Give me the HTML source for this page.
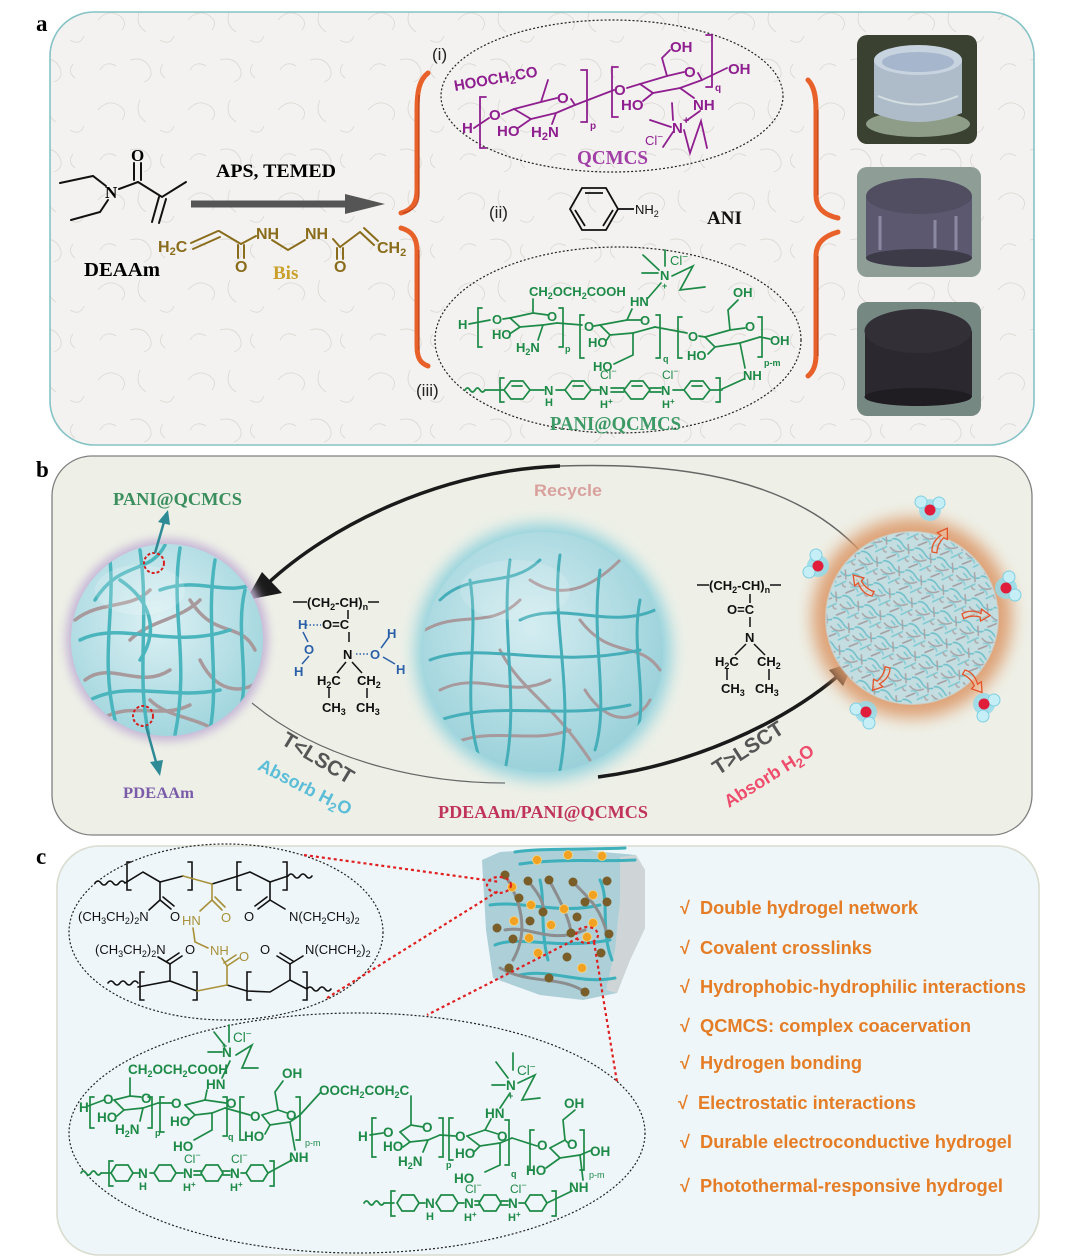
<!DOCTYPE html>
<html><head><meta charset="utf-8">
<style>
html,body{margin:0;padding:0;background:#fff;width:1080px;height:1257px;overflow:hidden}
svg{display:block}
text{font-family:"Liberation Sans",sans-serif}
.sf{font-family:"Liberation Serif",serif;font-weight:bold}
.pu{fill:#8f1f8f;font-weight:bold;font-size:15px}
.gr{fill:#1e8a47;font-weight:bold;font-size:13px}
.bk{fill:#111;font-size:13px}
.au{fill:#a8913a;font-size:13px}
.li{fill:#e57d26;font-weight:bold;font-size:18px}
.ch{font-family:"Liberation Serif",serif;font-weight:bold;font-size:13px;fill:#111}
.bl{fill:#2a5fa8}
.rm{font-family:"Liberation Sans",sans-serif;font-size:17px;fill:#222}
</style></head><body>
<svg width="1080" height="1257" viewBox="0 0 1080 1257" xmlns="http://www.w3.org/2000/svg">
<defs>
<pattern id="paper" width="90" height="90" patternUnits="userSpaceOnUse">
<g fill="none" stroke="#dddad5" stroke-width="0.9">
<path d="M8 20 q10 -12 22 -4 q8 6 2 14"/><path d="M50 10 q-6 14 6 22"/>
<path d="M40 60 q14 -4 20 8 q4 10 -6 14"/><path d="M70 40 q10 6 14 -4"/>
<path d="M10 70 q6 -10 16 -4"/><path d="M75 78 q-8 -6 -2 -14"/>
</g></pattern>
<pattern id="fib" width="30" height="30" patternUnits="userSpaceOnUse" patternTransform="rotate(23) scale(0.8)">
<rect width="30" height="30" fill="#c3dde1"/>
<g fill="none" stroke-width="1.9" stroke-linecap="round">
<path d="M0 4 q7 -4 15 2 t15 0" stroke="#6fc0c9"/>
<path d="M2 15 q9 5 17 -3" stroke="#a7a3a6"/>
<path d="M17 27 l10 -11" stroke="#7ccad2"/>
<path d="M3 29 l8 -8" stroke="#a39ea1"/>
<path d="M21 3 l5 10" stroke="#a9a5a8"/>
<path d="M6 20 q6 -4 10 2" stroke="#88cdd5"/>
<path d="M24 20 q3 4 6 2" stroke="#b0acae"/>
<path d="M9 9 l6 3" stroke="#7fc6ce"/>
</g></pattern>
<radialGradient id="sgL" cx="45%" cy="40%" r="60%"><stop offset="0" stop-color="#dcf1f4"/><stop offset="1" stop-color="#a3d6de"/></radialGradient>
<radialGradient id="sgC" cx="45%" cy="40%" r="60%"><stop offset="0" stop-color="#d4edf1"/><stop offset="1" stop-color="#9bd1da"/></radialGradient>
<filter id="b5" x="-30%" y="-30%" width="160%" height="160%"><feGaussianBlur stdDeviation="5"/></filter>
<filter id="b8" x="-30%" y="-30%" width="160%" height="160%"><feGaussianBlur stdDeviation="8"/></filter>
<clipPath id="cL"><circle cx="167" cy="640" r="96"/></clipPath>
<clipPath id="cC"><circle cx="543" cy="652" r="120"/></clipPath>
</defs>

<!-- ============ PANEL A ============ -->
<rect x="50" y="12" width="984" height="433" rx="44" fill="#f3f2f0"/>
<rect x="50" y="12" width="984" height="433" rx="44" fill="url(#paper)" stroke="#86c3c6" stroke-width="1.6"/>
<text x="36" y="31" class="sf" font-size="23">a</text>

<!-- DEAAm -->
<g stroke="#111" stroke-width="2" fill="none" stroke-linecap="round">
<polyline points="60,183 93,176 106,186"/>
<polyline points="71,220 100,212 108,200"/>
<line x1="119" y1="189" x2="138" y2="182"/>
<line x1="134" y1="180" x2="134" y2="163"/><line x1="141" y1="180" x2="141" y2="163"/>
<polyline points="138,182 162,197 186,182"/>
<line x1="159" y1="197" x2="152" y2="222"/><line x1="166" y1="199" x2="159" y2="223"/>
</g>
<text x="105" y="198" class="sf" font-size="17">N</text>
<text x="131" y="161" class="sf" font-size="17">O</text>
<text x="84" y="276" class="sf" font-size="20" textLength="76" lengthAdjust="spacingAndGlyphs">DEAAm</text>

<!-- arrow -->
<line x1="191" y1="204" x2="350" y2="204" stroke="#555" stroke-width="7"/>
<polygon points="345,194 385,204 345,214" fill="#555"/>
<text x="216" y="177" class="sf" font-size="19" textLength="120" lengthAdjust="spacingAndGlyphs">APS, TEMED</text>

<!-- Bis -->
<g stroke="#8a6d1c" stroke-width="2" fill="none" stroke-linecap="round">
<line x1="191" y1="243" x2="218" y2="231"/><line x1="193" y1="249" x2="220" y2="237"/>
<line x1="219" y1="231" x2="241" y2="244"/>
<line x1="238" y1="245" x2="238" y2="258"/><line x1="244" y1="245" x2="244" y2="258"/>
<line x1="241" y1="244" x2="256" y2="236"/>
<polyline points="272,240 288,250 305,240"/>
<line x1="333" y1="239" x2="340" y2="247"/>
<line x1="337" y1="248" x2="337" y2="259"/><line x1="343" y1="248" x2="343" y2="259"/>
<line x1="340" y1="247" x2="360" y2="232"/>
<line x1="360" y1="232" x2="374" y2="245"/><line x1="364" y1="228" x2="378" y2="241"/>
</g>
<g fill="#8a6d1c" font-weight="bold" font-size="16">
<text x="158" y="252">H<tspan dy="3" font-size="11">2</tspan><tspan dy="-3">C</tspan></text>
<text x="256" y="239">NH</text><text x="305" y="239">NH</text>
<text x="377" y="253">CH<tspan dy="3" font-size="11">2</tspan></text>
<text x="235" y="272">O</text><text x="334" y="272">O</text>
</g>
<text x="273" y="279" class="sf" font-size="19" fill="#c9a02a">Bis</text>

<!-- braces -->
<g fill="none" stroke="#e8612a" stroke-width="5" stroke-linecap="round">
<path d="M428,73 C419,80 417,92 417,110 L417,190 C417,203 412,210 401,213"/>
<path d="M401,228 C412,231 417,238 417,250 L417,345 C417,358 420,363 428,366"/>
<path d="M808,80 C814,86 816,96 816,110 L816,195 C816,208 824,215 838,218"/>
<path d="M838,232 C824,236 816,243 816,256 L816,355 C816,366 813,372 808,376"/>
</g>
<g fill="none" stroke="#a8300e" stroke-width="1.2" opacity=".7">
<path d="M419,95 L419,195 C419,205 413,211 403,213"/>
<path d="M419,250 L419,350"/>
<path d="M818,110 L818,195"/><path d="M818,256 L818,356"/>
</g>

<!-- (i) QCMCS -->
<ellipse cx="612" cy="96" rx="171" ry="76" fill="none" stroke="#222" stroke-width="1.2" stroke-dasharray="2,2"/>
<text x="432" y="60" class="rm">(i)</text>
<g stroke="#8f1f8f" stroke-width="1.8" fill="none" stroke-linecap="round">
<polyline points="474,128 489,118"/>
<path d="M486,97 L480,97 L480,148 L486,148"/>
<line x1="502" y1="114" x2="514" y2="109"/>
<polyline points="514,109 531,119 556,113 575,105"/>
<polyline points="514,109 541,102 557,98"/>
<line x1="571" y1="99" x2="575" y2="105"/>
<line x1="541" y1="102" x2="548" y2="80"/>
<line x1="531" y1="119" x2="518" y2="128"/>
<line x1="556" y1="113" x2="552" y2="124"/>
<line x1="575" y1="105" x2="614" y2="90"/>
<path d="M581,70 L587,70 L587,122 L581,122"/>
<path d="M618,67 L612,67 L612,117 L618,117"/>
<line x1="627" y1="88" x2="640" y2="84"/>
<polyline points="640,84 653,93 680,88 702,80"/>
<polyline points="640,84 667,76 684,72"/>
<line x1="698" y1="73" x2="702" y2="80"/>
<polyline points="667,76 662,58 670,50"/>
<line x1="653" y1="93" x2="643" y2="101"/>
<line x1="680" y1="88" x2="694" y2="98"/>
<line x1="702" y1="80" x2="727" y2="68"/>
<path d="M706,35 L712,35 L712,87 L706,87"/>
<line x1="700" y1="111" x2="686" y2="121"/>
<line x1="673" y1="120" x2="672" y2="103"/>
<line x1="671" y1="127" x2="650" y2="120"/>
<line x1="673" y1="132" x2="663" y2="147"/>
<polyline points="684,130 690,153 701,121 707,148"/>
</g>
<g class="pu">
<text transform="translate(455,91) rotate(-10)">HOOCH<tspan dy="3" font-size="11">2</tspan><tspan dy="-3">CO</tspan></text>
<text x="462" y="133">H</text>
<text x="489" y="120">O</text>
<text x="497" y="136">HO</text>
<text x="531" y="137">H<tspan dy="3" font-size="11">2</tspan><tspan dy="-3">N</tspan></text>
<text x="557" y="103">O</text>
<text x="590" y="129" font-size="10">p</text>
<text x="614" y="95">O</text>
<text x="621" y="110">HO</text>
<text x="670" y="52">OH</text>
<text x="684" y="77">O</text>
<text x="715" y="91" font-size="10">q</text>
<text x="728" y="74">OH</text>
<text x="693" y="110">NH</text>
<text x="672" y="133">N</text>
<text x="683" y="124" font-size="11">+</text>
<text x="645" y="145" font-size="13" font-weight="normal">Cl<tspan dy="-5" font-size="10">−</tspan></text>
</g>
<text x="577" y="164" class="sf" font-size="20" fill="#a13fa6" textLength="71" lengthAdjust="spacingAndGlyphs">QCMCS</text>

<!-- (ii) aniline -->
<text x="489" y="218" class="rm">(ii)</text>
<g stroke="#111" stroke-width="1.8" fill="none">
<polygon points="582,188 606,188 618,209 606,230 582,230 570,209"/>
<line x1="585" y1="193" x2="603" y2="193"/>
<line x1="613" y1="210" x2="603" y2="226"/>
<line x1="575" y1="210" x2="585" y2="226"/>
<line x1="618" y1="209" x2="634" y2="209"/>
</g>
<text x="635" y="214" font-size="13" fill="#111">NH<tspan dy="3" font-size="9">2</tspan></text>
<text x="707" y="224" class="sf" font-size="19" fill="#111">ANI</text>

<!-- (iii) PANI@QCMCS -->
<ellipse cx="618" cy="340" rx="183" ry="93" fill="none" stroke="#222" stroke-width="1.2" stroke-dasharray="2,2"/>
<text x="416" y="396" class="rm">(iii)</text>
<g stroke="#1e8a47" stroke-width="1.7" fill="none" stroke-linecap="round">
<line x1="469" y1="324" x2="490" y2="320"/>
<path d="M482,308 L478,308 L478,347 L482,347"/>
<line x1="503" y1="319" x2="510" y2="318"/>
<polyline points="510,318 520,327 543,325 557,323"/>
<polyline points="510,318 533,313 548,315"/>
<line x1="533" y1="313" x2="533" y2="299"/>
<line x1="520" y1="327" x2="511" y2="333"/>
<line x1="543" y1="325" x2="538" y2="340"/>
<line x1="557" y1="323" x2="582" y2="325"/>
<path d="M559,308 L563,308 L563,347 L559,347"/>
<path d="M584,315 L580,315 L580,358 L584,358"/>
<line x1="594" y1="326" x2="600" y2="325"/>
<polyline points="600,325 610,335 633,333 655,327"/>
<polyline points="600,325 627,320 641,320"/>
<line x1="627" y1="320" x2="632" y2="309"/>
<line x1="610" y1="335" x2="606" y2="341"/>
<polyline points="633,333 633,355 614,364"/>
<line x1="655" y1="327" x2="687" y2="333"/>
<path d="M656,315 L660,315 L660,358 L656,358"/>
<path d="M682,317 L678,317 L678,358 L682,358"/>
<line x1="699" y1="336" x2="705" y2="337"/>
<polyline points="705,337 715,347 740,343 760,337"/>
<polyline points="705,337 730,330 745,328"/>
<polyline points="730,330 728,310 738,300"/>
<line x1="715" y1="347" x2="708" y2="354"/>
<line x1="740" y1="343" x2="745" y2="368"/>
<line x1="760" y1="337" x2="770" y2="339"/>
<path d="M758,317 L762,317 L762,357 L758,357"/>
<line x1="648" y1="298" x2="661" y2="283"/>
<line x1="665" y1="250" x2="665" y2="266"/>
<line x1="643" y1="255" x2="659" y2="270"/>
<line x1="642" y1="273" x2="658" y2="273"/>
<polyline points="672,276 693,266 680,290 705,287"/>
<!-- PANI -->
<path d="M465,390 q2.5,-4 5,0 t5,0 t5,0 t5,0"/>
<line x1="485" y1="390" x2="504" y2="390"/>
<path d="M504,378 L500,378 L500,402 L504,402"/>
<polygon points="504,390 511,381 523,381 530,390 523,399 511,399"/>
<line x1="512" y1="386" x2="522" y2="386"/>
<line x1="530" y1="390" x2="544" y2="390"/>
<line x1="556" y1="390" x2="565" y2="390"/>
<polygon points="565,390 572,381 584,381 591,390 584,399 572,399"/>
<line x1="573" y1="386" x2="583" y2="386"/>
<line x1="591" y1="390" x2="599" y2="390"/>
<line x1="611" y1="388" x2="624" y2="388"/><line x1="611" y1="392" x2="624" y2="392"/>
<polygon points="624,390 631,381 643,381 650,390 643,399 631,399"/>
<line x1="632" y1="386" x2="642" y2="386"/>
<line x1="650" y1="388" x2="661" y2="388"/><line x1="650" y1="392" x2="661" y2="392"/>
<line x1="673" y1="390" x2="684" y2="390"/>
<polygon points="684,390 691,381 703,381 710,390 703,399 691,399"/>
<line x1="692" y1="386" x2="702" y2="386"/>
<line x1="710" y1="390" x2="722" y2="390"/>
<path d="M716,378 L720,378 L720,402 L716,402"/>
<line x1="722" y1="389" x2="744" y2="379"/>
</g>
<g class="gr">
<text x="529" y="296">CH<tspan dy="3" font-size="9">2</tspan><tspan dy="-3">OCH</tspan><tspan dy="3" font-size="9">2</tspan><tspan dy="-3">COOH</tspan></text>
<text x="458" y="329">H</text>
<text x="492" y="324">O</text>
<text x="492" y="339">HO</text>
<text x="516" y="352">H<tspan dy="3" font-size="9">2</tspan><tspan dy="-3">N</tspan></text>
<text x="547" y="321">O</text>
<text x="565" y="352" font-size="9">p</text>
<text x="584" y="331">O</text>
<text x="588" y="347">HO</text>
<text x="640" y="325">O</text>
<text x="593" y="371">HO</text>
<text x="630" y="306">HN</text>
<text x="663" y="362" font-size="9">q</text>
<text x="688" y="341">O</text>
<text x="745" y="331">O</text>
<text x="733" y="297">OH</text>
<text x="770" y="345">OH</text>
<text x="687" y="360">HO</text>
<text x="764" y="366" font-size="9">p-m</text>
<text x="743" y="380">NH</text>
<text x="660" y="280">N</text>
<text x="662" y="289" font-size="9">+</text>
<text x="670" y="265" font-weight="normal">Cl<tspan dy="-5" font-size="10">−</tspan></text>
<text x="544" y="395">N</text>
<text x="545" y="406" font-size="11">H</text>
<text x="599" y="395">N</text>
<text x="600" y="379" font-weight="normal" font-size="12">Cl<tspan dy="-5" font-size="9">−</tspan></text>
<text x="600" y="408" font-size="11">H<tspan dy="-4" font-size="8">+</tspan></text>
<text x="661" y="395">N</text>
<text x="662" y="379" font-weight="normal" font-size="12">Cl<tspan dy="-5" font-size="9">−</tspan></text>
<text x="662" y="408" font-size="11">H<tspan dy="-4" font-size="8">+</tspan></text>
</g>
<text x="550" y="430" class="sf" font-size="20" fill="#3d9a66" textLength="131" lengthAdjust="spacingAndGlyphs">PANI@QCMCS</text>

<!-- photos -->
<rect x="857" y="35" width="120" height="109" rx="10" fill="#3a4131"/>
<ellipse cx="918" cy="124" rx="52" ry="13" fill="#9eae98" opacity=".85"/>
<path d="M874,60 L874,113 Q918,131 962,113 L962,60 Z" fill="#aebcca"/>
<ellipse cx="918" cy="60" rx="44" ry="15" fill="#c8d3e0"/>
<ellipse cx="918" cy="62" rx="36" ry="10" fill="#a6b6cc"/>
<path d="M878,96 Q918,113 958,96" stroke="#e4ecea" stroke-width="2" fill="none" opacity=".7"/>
<rect x="857" y="167" width="124" height="110" rx="10" fill="#8e9e97"/>
<rect x="866" y="196" width="106" height="62" fill="#5c5870"/>
<ellipse cx="919" cy="258" rx="53" ry="9" fill="#3e3b48"/>
<ellipse cx="919" cy="196" rx="53" ry="18" fill="#524e62"/>
<path d="M880,216 L880,250 M956,216 L956,250 M935,220 L935,248" stroke="#8b88a2" stroke-width="3"/>
<rect x="857" y="302" width="124" height="114" rx="10" fill="#768882"/>
<rect x="865" y="331" width="107" height="66" fill="#2b282f"/>
<ellipse cx="918" cy="397" rx="53.5" ry="9" fill="#1f1c22"/>
<ellipse cx="918" cy="331" rx="53.5" ry="22" fill="#332f37"/>

<!-- ============ PANEL B ============ -->
<rect x="52" y="456" width="980" height="379" rx="40" fill="#eef0e7" stroke="#808080" stroke-width="1.3"/>
<text x="36" y="477" class="sf" font-size="23">b</text>

<!-- recycle arrow -->
<path d="M868,560 C800,478 680,462 560,466" fill="none" stroke="#666" stroke-width="1.5"/>
<path d="M560,466 C440,471 330,525 266,585" fill="none" stroke="#1a1a1a" stroke-width="3.5"/>
<polygon points="246,600 262,572 282,593" fill="#1a1a1a"/>
<text x="534" y="496" font-weight="bold" font-size="17" fill="#d9a19e" textLength="68" lengthAdjust="spacingAndGlyphs">Recycle</text>
<!-- lower thin -->
<path d="M252,703 C320,760 420,783 505,783" fill="none" stroke="#666" stroke-width="1.2"/>

<!-- left sphere -->
<circle cx="167" cy="640" r="101" fill="#c4b4d6" filter="url(#b5)"/>
<circle cx="167" cy="640" r="96" fill="url(#sgL)"/>
<g clip-path="url(#cL)" fill="none" stroke-width="3.5" stroke-linecap="round">
<g stroke="#a89a9c">
<path d="M75,620 C100,600 130,610 150,590"/><path d="M85,680 C110,660 140,690 170,670"/>
<path d="M190,600 C215,640 240,620 255,650"/><path d="M100,720 C130,700 160,720 190,705"/>
<path d="M200,660 C220,700 250,690 260,680"/><path d="M150,700 C170,720 200,715 230,740"/>
<path d="M130,640 C150,620 180,620 200,600"/>
</g>
<g stroke="#4ab5bd">
<path d="M95,600 C120,560 150,575 165,545"/><path d="M110,560 C115,610 100,660 115,720"/>
<path d="M140,550 C150,620 135,680 150,740"/><path d="M180,548 C170,610 190,660 175,735"/>
<path d="M215,560 C205,620 220,680 210,730"/><path d="M245,590 C235,630 250,680 240,710"/>
<path d="M80,640 C120,620 170,650 230,630"/><path d="M90,700 C130,680 170,700 220,690"/>
<path d="M160,590 C200,575 230,600 260,580"/><path d="M120,580 C150,600 160,630 140,660"/>
</g>
</g>
<ellipse cx="140" cy="590" rx="45" ry="25" fill="#fff" opacity=".18"/>
<circle cx="154" cy="563" r="10" fill="none" stroke="#d62020" stroke-width="2" stroke-dasharray="3,2"/>
<circle cx="143" cy="716" r="10" fill="none" stroke="#d62020" stroke-width="2" stroke-dasharray="3,2"/>
<g stroke="#2e8a94" stroke-width="2.5" fill="#2e8a94">
<line x1="155" y1="553" x2="164" y2="522"/><polygon points="158,522 168,510 170,525" stroke="none"/>
<line x1="146" y1="726" x2="156" y2="762"/><polygon points="150,762 160,776 163,760" stroke="none"/>
</g>
<text x="113" y="505" class="sf" font-size="18" fill="#3b8f5e" textLength="129" lengthAdjust="spacingAndGlyphs">PANI@QCMCS</text>
<text x="123" y="798" class="sf" font-size="16" fill="#7a5ca8" textLength="71" lengthAdjust="spacingAndGlyphs">PDEAAm</text>

<!-- left chem -->
<g stroke="#111" stroke-width="1.5" fill="none">
<line x1="293" y1="602" x2="307" y2="602"/><line x1="368" y1="602" x2="379" y2="602"/>
<line x1="348" y1="610" x2="348" y2="619"/><line x1="349" y1="632" x2="349" y2="642"/>
<line x1="346" y1="662" x2="337" y2="673"/><line x1="352" y1="662" x2="362" y2="673"/>
<line x1="329" y1="688" x2="329" y2="698"/><line x1="367" y1="688" x2="367" y2="698"/>
</g>
<g stroke="#2a5fa8" stroke-width="1.5" fill="none">
<line x1="306" y1="625" x2="321" y2="625" stroke-dasharray="1.5,2"/>
<line x1="303" y1="632" x2="308" y2="642"/><line x1="309" y1="656" x2="302" y2="664"/>
<line x1="356" y1="654" x2="370" y2="654" stroke-dasharray="1.5,2"/>
<line x1="381" y1="648" x2="389" y2="637"/><line x1="383" y1="657" x2="395" y2="664"/>
</g>
<g class="ch">
<text x="307" y="607">(CH<tspan dy="3" font-size="9">2</tspan><tspan dy="-3">-CH)</tspan><tspan dy="3" font-size="9">n</tspan></text>
<text x="322" y="629">O=C</text>
<text x="343" y="659">N</text>
<text x="317" y="685">H<tspan dy="3" font-size="9">2</tspan><tspan dy="-3">C</tspan></text>
<text x="357" y="685">CH<tspan dy="3" font-size="9">2</tspan></text>
<text x="322" y="712">CH<tspan dy="3" font-size="9">3</tspan></text>
<text x="356" y="712">CH<tspan dy="3" font-size="9">3</tspan></text>
</g>
<g class="ch" style="fill:#2a5fa8">
<text x="298" y="629">H</text><text x="304" y="654">O</text><text x="294" y="676">H</text>
<text x="370" y="659">O</text><text x="387" y="638">H</text><text x="396" y="674">H</text>
</g>

<!-- center sphere -->
<circle cx="543" cy="652" r="128" fill="#92d2dd" filter="url(#b8)"/>
<circle cx="543" cy="652" r="120" fill="url(#sgC)"/>
<g clip-path="url(#cC)" fill="none" stroke-width="3" stroke-linecap="round">
<g stroke="#a8999c">
<path d="M425,630 C460,610 490,630 520,600"/><path d="M440,690 C480,670 510,700 550,680"/>
<path d="M580,620 C610,660 640,640 660,670"/><path d="M450,745 C490,725 530,745 570,730"/>
<path d="M585,690 C610,730 640,720 650,700"/><path d="M500,650 C520,690 550,700 590,760"/>
<path d="M530,580 C560,600 590,590 620,560"/>
</g>
<g stroke="#46aeb8">
<path d="M440,600 C470,570 510,590 540,560"/><path d="M470,580 C480,640 460,700 480,760"/>
<path d="M510,560 C500,630 520,700 505,770"/><path d="M560,555 C550,620 575,690 560,770"/>
<path d="M600,570 C590,640 610,700 595,750"/><path d="M640,600 C630,650 650,700 635,740"/>
<path d="M430,660 C480,640 550,670 640,650"/><path d="M440,720 C500,700 560,720 630,705"/>
<path d="M520,620 C560,600 610,630 655,610"/>
</g>
</g>
<ellipse cx="515" cy="590" rx="55" ry="30" fill="#fff" opacity=".15"/>
<text x="438" y="818" class="sf" font-size="18" fill="#c0345c" textLength="210" lengthAdjust="spacingAndGlyphs">PDEAAm/PANI@QCMCS</text>

<!-- heating arrow -->
<path d="M598,777 C690,765 780,725 838,676" fill="none" stroke="#1a1a1a" stroke-width="3.5"/>
<polygon points="855,661 829,670 843,686" fill="#1a1a1a"/>

<!-- right chem -->
<g stroke="#111" stroke-width="1.5" fill="none">
<line x1="697" y1="585" x2="709" y2="585"/><line x1="770" y1="585" x2="781" y2="585"/>
<line x1="750" y1="594" x2="750" y2="603"/><line x1="750" y1="617" x2="750" y2="627"/>
<line x1="746" y1="644" x2="735" y2="655"/><line x1="754" y1="644" x2="765" y2="655"/>
<line x1="727" y1="669" x2="727" y2="680"/><line x1="769" y1="669" x2="769" y2="680"/>
</g>
<g class="ch">
<text x="709" y="590">(CH<tspan dy="3" font-size="9">2</tspan><tspan dy="-3">-CH)</tspan><tspan dy="3" font-size="9">n</tspan></text>
<text x="727" y="614">O=C</text>
<text x="745" y="642">N</text>
<text x="715" y="666">H<tspan dy="3" font-size="9">2</tspan><tspan dy="-3">C</tspan></text>
<text x="757" y="666">CH<tspan dy="3" font-size="9">2</tspan></text>
<text x="721" y="693">CH<tspan dy="3" font-size="9">3</tspan></text>
<text x="755" y="693">CH<tspan dy="3" font-size="9">3</tspan></text>
</g>

<!-- right sphere -->
<circle cx="912" cy="618" r="100" fill="#dc9a6a" filter="url(#b8)" opacity=".9"/>
<circle cx="912" cy="618" r="86" fill="url(#fib)"/>
<circle cx="912" cy="618" r="86" fill="none" stroke="#c8dfe2" stroke-width="2" opacity=".6"/>
<g fill="#f7d2b8" fill-opacity=".35" stroke="#e5532a" stroke-width="1.3">
<path transform="translate(932,552) rotate(10)" d="M0,0 C-2,-8 2,-14 6,-18 L2,-20 L11,-26 L13,-15 L9,-16 C6,-12 4,-6 5,0 Z"/>
<path transform="translate(872,596) rotate(-65)" d="M0,0 C-2,-8 2,-14 6,-18 L2,-20 L11,-26 L13,-15 L9,-16 C6,-12 4,-6 5,0 Z"/>
<path transform="translate(962,614) rotate(70)" d="M0,0 C-2,-8 2,-14 6,-18 L2,-20 L11,-26 L13,-15 L9,-16 C6,-12 4,-6 5,0 Z"/>
<path transform="translate(890,668) rotate(-165)" d="M0,0 C-2,-8 2,-14 6,-18 L2,-20 L11,-26 L13,-15 L9,-16 C6,-12 4,-6 5,0 Z"/>
<path transform="translate(965,670) rotate(120)" d="M0,0 C-2,-8 2,-14 6,-18 L2,-20 L11,-26 L13,-15 L9,-16 C6,-12 4,-6 5,0 Z"/>
</g>
<g>
<g transform="translate(930,510)"><circle r="11" fill="#8edbec" opacity=".8"/><circle cx="-9" cy="-8" r="6" fill="#c6eef6" stroke="#7fcfe2"/><circle cx="9" cy="-7" r="6" fill="#c6eef6" stroke="#7fcfe2"/><circle r="5.5" fill="#e01e3c"/></g>
<g transform="translate(818,566)"><circle r="11" fill="#8edbec" opacity=".8"/><circle cx="-2" cy="-11" r="6" fill="#c6eef6" stroke="#7fcfe2"/><circle cx="-9" cy="6" r="6" fill="#c6eef6" stroke="#7fcfe2"/><circle r="5.5" fill="#e01e3c"/></g>
<g transform="translate(1006,588)"><circle r="11" fill="#8edbec" opacity=".8"/><circle cx="3" cy="-11" r="6" fill="#c6eef6" stroke="#7fcfe2"/><circle cx="9" cy="7" r="6" fill="#c6eef6" stroke="#7fcfe2"/><circle r="5.5" fill="#e01e3c"/></g>
<g transform="translate(866,712)"><circle r="11" fill="#8edbec" opacity=".8"/><circle cx="-10" cy="-3" r="6" fill="#c6eef6" stroke="#7fcfe2"/><circle cx="3" cy="11" r="6" fill="#c6eef6" stroke="#7fcfe2"/><circle r="5.5" fill="#e01e3c"/></g>
<g transform="translate(984,704)"><circle r="11" fill="#8edbec" opacity=".8"/><circle cx="10" cy="-4" r="6" fill="#c6eef6" stroke="#7fcfe2"/><circle cx="-1" cy="12" r="6" fill="#c6eef6" stroke="#7fcfe2"/><circle r="5.5" fill="#e01e3c"/></g>
</g>

<!-- angled labels -->
<text transform="translate(318,758) rotate(31)" text-anchor="middle" y="7" font-weight="bold" font-size="21" fill="#555">T&lt;LSCT</text>
<text transform="translate(305,787) rotate(27)" text-anchor="middle" y="6" font-weight="bold" font-size="18" fill="#5bbdd8">Absorb H<tspan dy="4" font-size="13">2</tspan><tspan dy="-4">O</tspan></text>
<text transform="translate(748,748) rotate(-33)" text-anchor="middle" y="7" font-weight="bold" font-size="21" fill="#555">T&gt;LSCT</text>
<text transform="translate(769,776) rotate(-32)" text-anchor="middle" y="6" font-weight="bold" font-size="18" fill="#ee4d6d">Absorb H<tspan dy="4" font-size="13">2</tspan><tspan dy="-4">O</tspan></text>

<!-- ============ PANEL C ============ -->
<rect x="57" y="846" width="982" height="409" rx="42" fill="#eef6f9" stroke="#d9dccf" stroke-width="1.6"/>
<text x="36" y="864" class="sf" font-size="23">c</text>

<!-- upper ellipse -->
<ellipse cx="226" cy="932" rx="157" ry="88" fill="none" stroke="#222" stroke-width="1.2" stroke-dasharray="2,2"/>
<g stroke="#111" stroke-width="1.6" fill="none" stroke-linecap="round">
<path d="M95,883 q3,-4 6,0 t6,0 t6,0 t6,0 t6,0"/>
<path d="M131,862 L127,862 L127,890 L131,890"/>
<polyline points="125,883 143,872 160,882 183,876"/>
<path d="M188,862 L192,862 L192,890 L188,890"/>
<polyline points="212,884 235,877 250,872 270,882 288,876"/>
<path d="M241,862 L237,862 L237,890 L241,890"/>
<path d="M283,862 L287,862 L287,890 L283,890"/>
<path d="M288,876 q3,-4 6,0 t6,0 t6,0 t6,0"/>
<line x1="160" y1="882" x2="160" y2="900"/><line x1="160" y1="900" x2="149" y2="910"/>
<line x1="160" y1="900" x2="171" y2="909"/><line x1="163" y1="897" x2="174" y2="906"/>
<line x1="270" y1="882" x2="270" y2="900"/><line x1="270" y1="900" x2="285" y2="909"/>
<line x1="270" y1="900" x2="258" y2="909"/><line x1="267" y1="897" x2="255" y2="906"/>
<path d="M108,983 q3,-4 6,0 t6,0 t6,0 t6,0 t6,0"/>
<path d="M144,972 L140,972 L140,1000 L144,1000"/>
<polyline points="138,987 170,981 197,991"/>
<path d="M193,972 L197,972 L197,1000 L193,1000"/>
<polyline points="227,985 247,991 270,992 290,980 307,989"/>
<path d="M251,972 L247,972 L247,1000 L251,1000"/>
<path d="M303,972 L307,972 L307,1000 L303,1000"/>
<path d="M307,989 q3,-4 6,0 t6,0 t6,0 t6,0"/>
<line x1="170" y1="981" x2="170" y2="964"/><line x1="170" y1="964" x2="158" y2="957"/>
<line x1="170" y1="964" x2="182" y2="956"/><line x1="167" y1="961" x2="179" y2="953"/>
<line x1="290" y1="980" x2="290" y2="964"/><line x1="290" y1="964" x2="303" y2="956"/>
<line x1="290" y1="964" x2="277" y2="956"/><line x1="293" y1="961" x2="280" y2="953"/>
</g>
<g stroke="#a8913a" stroke-width="1.6" fill="none" stroke-linecap="round">
<polyline points="183,876 212,884"/>
<line x1="212" y1="884" x2="212" y2="900"/><line x1="212" y1="900" x2="200" y2="911"/>
<line x1="212" y1="900" x2="222" y2="910"/><line x1="215" y1="897" x2="225" y2="907"/>
<polyline points="193,928 195,942 208,948"/>
<polyline points="197,991 227,985"/>
<line x1="227" y1="985" x2="227" y2="966"/><line x1="227" y1="966" x2="222" y2="958"/>
<line x1="227" y1="966" x2="239" y2="958"/><line x1="224" y1="963" x2="236" y2="955"/>
</g>
<g class="bk">
<text x="78" y="921">(CH<tspan dy="3" font-size="9">3</tspan><tspan dy="-3">CH</tspan><tspan dy="3" font-size="9">2</tspan><tspan dy="-3">)</tspan><tspan dy="3" font-size="9">2</tspan><tspan dy="-3">N</tspan></text>
<text x="170" y="921">O</text>
<text x="244" y="921">O</text>
<text x="289" y="921">N(CH<tspan dy="3" font-size="9">2</tspan><tspan dy="-3">CH</tspan><tspan dy="3" font-size="9">3</tspan><tspan dy="-3">)</tspan><tspan dy="3" font-size="9">2</tspan></text>
<text x="95" y="954">(CH<tspan dy="3" font-size="9">3</tspan><tspan dy="-3">CH</tspan><tspan dy="3" font-size="9">2</tspan><tspan dy="-3">)</tspan><tspan dy="3" font-size="9">2</tspan><tspan dy="-3">N</tspan></text>
<text x="185" y="954">O</text>
<text x="260" y="954">O</text>
<text x="305" y="954">N(CHCH<tspan dy="3" font-size="9">2</tspan><tspan dy="-3">)</tspan><tspan dy="3" font-size="9">2</tspan></text>
</g>
<g class="au">
<text x="182" y="925">HN</text><text x="221" y="922">O</text>
<text x="210" y="955">NH</text><text x="239" y="961">O</text>
</g>

<!-- lower ellipse -->
<ellipse cx="357" cy="1133" rx="288" ry="120" fill="none" stroke="#222" stroke-width="1.2" stroke-dasharray="2,2"/>
<g stroke="#1e8a47" stroke-width="1.7" fill="none" stroke-linecap="round">
<line x1="88" y1="1106" x2="104" y2="1100"/>
<path d="M94,1097 L90,1097 L90,1128 L94,1128"/>
<polyline points="114,1100 124,1110 143,1108 158,1103"/>
<polyline points="114,1100 130,1096 141,1097"/>
<line x1="130" y1="1096" x2="130" y2="1078"/>
<line x1="124" y1="1110" x2="117" y2="1116"/>
<line x1="143" y1="1108" x2="140" y2="1121"/>
<line x1="158" y1="1103" x2="172" y2="1103"/>
<path d="M148,1097 L152,1097 L152,1128 L148,1128"/>
<path d="M164,1097 L160,1097 L160,1132 L164,1132"/>
<polyline points="185,1105 195,1115 212,1113 225,1108"/>
<polyline points="185,1105 205,1100 226,1103"/>
<line x1="205" y1="1100" x2="207" y2="1090"/>
<line x1="195" y1="1115" x2="189" y2="1120"/>
<polyline points="212,1113 212,1130 194,1140"/>
<line x1="225" y1="1108" x2="250" y2="1115"/>
<path d="M223,1097 L227,1097 L227,1136 L223,1136"/>
<path d="M244,1097 L240,1097 L240,1140 L244,1140"/>
<polyline points="262,1115 270,1125 290,1122 300,1115"/>
<polyline points="262,1115 278,1110 287,1113"/>
<polyline points="278,1110 275,1092 283,1081"/>
<line x1="270" y1="1125" x2="265" y2="1134"/>
<line x1="290" y1="1122" x2="295" y2="1150"/>
<line x1="300" y1="1115" x2="320" y2="1093"/>
<path d="M296,1097 L300,1097 L300,1140 L296,1140"/>
<line x1="222" y1="1078" x2="230" y2="1061"/>
<line x1="229" y1="1025" x2="229" y2="1042"/>
<line x1="214" y1="1032" x2="225" y2="1046"/>
<line x1="208" y1="1052" x2="222" y2="1052"/>
<polyline points="236,1055 252,1045 242,1068 258,1068"/>
<path d="M81,1173 q2.5,-4 5,0 t5,0 t5,0 t5,0"/>
<line x1="101" y1="1173" x2="111" y2="1173"/>
<path d="M113,1161 L109,1161 L109,1186 L113,1186"/>
<polygon points="111,1173 116,1165 128,1165 133,1173 128,1181 116,1181"/>
<line x1="133" y1="1173" x2="139" y2="1173"/>
<line x1="150" y1="1173" x2="154" y2="1173"/>
<polygon points="154,1173 159,1165 171,1165 176,1173 171,1181 159,1181"/>
<line x1="176" y1="1173" x2="183" y2="1173"/>
<line x1="194" y1="1171" x2="201" y2="1171"/><line x1="194" y1="1175" x2="201" y2="1175"/>
<polygon points="201,1173 206,1165 218,1165 223,1173 218,1181 206,1181"/>
<line x1="223" y1="1171" x2="230" y2="1171"/><line x1="223" y1="1175" x2="230" y2="1175"/>
<line x1="241" y1="1173" x2="246" y2="1173"/>
<polygon points="246,1173 251,1165 263,1165 268,1173 263,1181 251,1181"/>
<path d="M270,1161 L274,1161 L274,1186 L270,1186"/>
<line x1="268" y1="1173" x2="292" y2="1160"/>
<line x1="370" y1="1135" x2="383" y2="1133"/>
<path d="M376,1118 L372,1118 L372,1157 L376,1157"/>
<line x1="411" y1="1096" x2="411" y2="1125"/>
<polyline points="400,1132 410,1142 428,1140 440,1135"/>
<polyline points="400,1132 411,1125 423,1127"/>
<line x1="410" y1="1142" x2="403" y2="1147"/>
<line x1="428" y1="1140" x2="423" y2="1152"/>
<line x1="440" y1="1135" x2="455" y2="1136"/>
<path d="M439,1118 L443,1118 L443,1157 L439,1157"/>
<path d="M453,1118 L449,1118 L449,1160 L453,1160"/>
<polyline points="467,1136 480,1146 500,1143 512,1138"/>
<polyline points="467,1136 485,1130 498,1134"/>
<line x1="485" y1="1130" x2="491" y2="1119"/>
<line x1="480" y1="1146" x2="474" y2="1152"/>
<polyline points="500,1143 500,1165 485,1172"/>
<line x1="512" y1="1138" x2="537" y2="1146"/>
<path d="M505,1120 L509,1120 L509,1165 L505,1165"/>
<path d="M534,1130 L530,1130 L530,1170 L534,1170"/>
<polyline points="550,1148 560,1158 580,1155 592,1150"/>
<polyline points="550,1148 565,1140 568,1143"/>
<polyline points="565,1140 563,1120 575,1110"/>
<line x1="560" y1="1158" x2="546" y2="1168"/>
<line x1="580" y1="1155" x2="583" y2="1180"/>
<path d="M580,1130 L584,1130 L584,1170 L580,1170"/>
<line x1="500" y1="1108" x2="510" y2="1093"/>
<line x1="513" y1="1053" x2="513" y2="1070"/>
<line x1="496" y1="1062" x2="508" y2="1078"/>
<line x1="492" y1="1085" x2="505" y2="1085"/>
<polyline points="518,1083 535,1075 522,1100 540,1098"/>
<path d="M364,1203 q2.5,-4 5,0 t5,0 t5,0 t5,0"/>
<line x1="384" y1="1203" x2="394" y2="1203"/>
<path d="M395,1191 L391,1191 L391,1216 L395,1216"/>
<polygon points="397,1203 402,1195 414,1195 419,1203 414,1211 402,1211"/>
<line x1="419" y1="1203" x2="425" y2="1203"/>
<polygon points="436,1203 441,1195 453,1195 458,1203 453,1211 441,1211"/>
<line x1="458" y1="1203" x2="464" y2="1203"/>
<line x1="475" y1="1201" x2="479" y2="1201"/><line x1="475" y1="1205" x2="479" y2="1205"/>
<polygon points="479,1203 484,1195 496,1195 501,1203 496,1211 484,1211"/>
<line x1="501" y1="1201" x2="508" y2="1201"/><line x1="501" y1="1205" x2="508" y2="1205"/>
<line x1="519" y1="1203" x2="525" y2="1203"/>
<polygon points="525,1203 530,1195 542,1195 547,1203 542,1211 530,1211"/>
<path d="M552,1191 L556,1191 L556,1216 L552,1216"/>
<line x1="547" y1="1203" x2="572" y2="1191"/>
</g>
<g class="gr" style="font-size:13.5px">
<text x="128" y="1074">CH<tspan dy="3" font-size="9">2</tspan><tspan dy="-3">OCH</tspan><tspan dy="3" font-size="9">2</tspan><tspan dy="-3">COOH</tspan></text>
<text x="79" y="1112">H</text>
<text x="103" y="1104">O</text>
<text x="97" y="1122">HO</text>
<text x="115" y="1134">H<tspan dy="3" font-size="9">2</tspan><tspan dy="-3">N</tspan></text>
<text x="141" y="1103">O</text>
<text x="155" y="1136" font-size="9">p</text>
<text x="171" y="1108">O</text>
<text x="226" y="1108">O</text>
<text x="206" y="1089">HN</text>
<text x="170" y="1126">HO</text>
<text x="173" y="1151">HO</text>
<text x="228" y="1140" font-size="9">q</text>
<text x="250" y="1121">O</text>
<text x="286" y="1120">O</text>
<text x="282" y="1078">OH</text>
<text x="244" y="1141">HO</text>
<text x="289" y="1162">NH</text>
<text x="305" y="1146" font-size="9" font-weight="normal">p-m</text>
<text x="319" y="1095">OOCH<tspan dy="3" font-size="9">2</tspan><tspan dy="-3">COH</tspan><tspan dy="3" font-size="9">2</tspan><tspan dy="-3">C</tspan></text>
<text x="222" y="1057">N</text>
<text x="222" y="1049" font-size="9">+</text>
<text x="233" y="1042" font-weight="normal">Cl<tspan dy="-5" font-size="10">−</tspan></text>
<text x="138" y="1178">N</text><text x="139" y="1190" font-size="11">H</text>
<text x="183" y="1178">N</text><text x="184" y="1163" font-size="12" font-weight="normal">Cl<tspan dy="-5" font-size="9">−</tspan></text><text x="183" y="1191" font-size="11">H<tspan dy="-4" font-size="8">+</tspan></text>
<text x="230" y="1178">N</text><text x="231" y="1163" font-size="12" font-weight="normal">Cl<tspan dy="-5" font-size="9">−</tspan></text><text x="230" y="1191" font-size="11">H<tspan dy="-4" font-size="8">+</tspan></text>
<text x="358" y="1141">H</text>
<text x="383" y="1137">O</text>
<text x="422" y="1132">O</text>
<text x="383" y="1151">HO</text>
<text x="398" y="1166">H<tspan dy="3" font-size="9">2</tspan><tspan dy="-3">N</tspan></text>
<text x="446" y="1168" font-size="9">p</text>
<text x="455" y="1141">O</text>
<text x="497" y="1141">O</text>
<text x="485" y="1118">HN</text>
<text x="455" y="1158">HO</text>
<text x="454" y="1183">HO</text>
<text x="511" y="1177" font-size="9">q</text>
<text x="537" y="1150">O</text>
<text x="567" y="1149">O</text>
<text x="564" y="1108">OH</text>
<text x="526" y="1175">HO</text>
<text x="590" y="1156">OH</text>
<text x="589" y="1178" font-size="9" font-weight="normal">p-m</text>
<text x="569" y="1192">NH</text>
<text x="506" y="1090">N</text>
<text x="508" y="1099" font-size="9">+</text>
<text x="517" y="1075" font-weight="normal">Cl<tspan dy="-5" font-size="10">−</tspan></text>
<text x="425" y="1208">N</text><text x="426" y="1220" font-size="11">H</text>
<text x="464" y="1208">N</text><text x="465" y="1193" font-size="12" font-weight="normal">Cl<tspan dy="-5" font-size="9">−</tspan></text><text x="464" y="1221" font-size="11">H<tspan dy="-4" font-size="8">+</tspan></text>
<text x="508" y="1208">N</text><text x="510" y="1193" font-size="12" font-weight="normal">Cl<tspan dy="-5" font-size="9">−</tspan></text><text x="508" y="1221" font-size="11">H<tspan dy="-4" font-size="8">+</tspan></text>
</g>

<!-- cube -->
<polygon points="482,860 500,852 560,848 636,855 645,870 645,928 630,960 617,993 583,1000 540,995 493,978 486,930" fill="#a8ccd6" opacity=".95"/>
<polygon points="620,857 636,855 645,870 645,928 630,960 617,993 606,990 615,950 620,900" fill="#cfd5d7"/>
<g fill="none" stroke-width="3" stroke-linecap="round">
<g stroke="#3db0bb">
<path d="M515,852 C540,848 580,850 625,848"/><path d="M520,864 C560,858 600,862 635,860"/>
<path d="M490,905 C520,900 560,915 600,905"/><path d="M495,945 C520,935 555,950 610,940"/>
<path d="M540,880 C545,900 540,930 548,960"/><path d="M600,880 C610,900 600,930 612,960"/>
<path d="M520,975 C550,968 580,985 615,978"/>
</g>
<g stroke="#8b8d8f">
<path d="M505,875 C520,900 530,930 513,960"/><path d="M549,880 C560,900 570,920 571,933"/>
<path d="M505,930 C530,925 550,945 585,930"/><path d="M500,968 C530,985 560,975 585,992"/>
<path d="M573,882 C585,895 600,905 607,934"/><path d="M528,881 C540,895 545,905 543,912"/>
</g>
</g>
<g fill="#7a5e2a">
<circle cx="505" cy="875" r="4.5"/><circle cx="528" cy="881" r="4.5"/><circle cx="549" cy="880" r="4.5"/>
<circle cx="573" cy="882" r="4.5"/><circle cx="607" cy="881" r="4.5"/><circle cx="519" cy="898" r="4.5"/>
<circle cx="543" cy="912" r="4.5"/><circle cx="585" cy="902" r="4.5"/><circle cx="607" cy="902" r="4.5"/>
<circle cx="530" cy="921" r="4.5"/><circle cx="577" cy="917" r="4.5"/><circle cx="497" cy="928" r="4.5"/>
<circle cx="513" cy="939" r="4.5"/><circle cx="571" cy="933" r="4.5"/><circle cx="609" cy="934" r="4.5"/>
<circle cx="567" cy="957" r="4.5"/><circle cx="601" cy="953" r="4.5"/><circle cx="509" cy="968" r="4.5"/>
<circle cx="549" cy="978" r="4.5"/><circle cx="585" cy="992" r="4.5"/>
</g>
<g fill="#f2a222" stroke="#f7d27a" stroke-width="0.8">
<circle cx="537" cy="860" r="4.5"/><circle cx="568" cy="855" r="4.5"/><circle cx="602" cy="856" r="4.5"/>
<circle cx="512" cy="887" r="4.5"/><circle cx="593" cy="895" r="4.5"/><circle cx="531" cy="905" r="4.5"/>
<circle cx="564" cy="909" r="4.5"/><circle cx="514" cy="921" r="4.5"/><circle cx="551" cy="925" r="4.5"/>
<circle cx="593" cy="923" r="4.5"/><circle cx="529" cy="938" r="4.5"/><circle cx="587" cy="937" r="4.5"/>
<circle cx="538" cy="953" r="4.5"/><circle cx="582" cy="968" r="4.5"/>
</g>
<g fill="none" stroke="#e02020" stroke-width="2.2" stroke-dasharray="3,3">
<line x1="304" y1="855" x2="500" y2="882"/>
<line x1="327" y1="998" x2="500" y2="890"/>
<ellipse cx="499" cy="885" rx="12" ry="8"/>
<ellipse cx="587" cy="935" rx="11" ry="8"/>
<line x1="578" y1="938" x2="427" y2="1015"/>
<line x1="594" y1="942" x2="617" y2="1082"/>
</g>

<!-- list -->
<g class="li">
<text x="680" y="914">√</text><text x="700" y="914" textLength="218" lengthAdjust="spacingAndGlyphs">Double hydrogel network</text>
<text x="680" y="954">√</text><text x="700" y="954" textLength="172" lengthAdjust="spacingAndGlyphs">Covalent crosslinks</text>
<text x="680" y="993">√</text><text x="700" y="993" textLength="326" lengthAdjust="spacingAndGlyphs">Hydrophobic-hydrophilic interactions</text>
<text x="680" y="1032">√</text><text x="700" y="1032" textLength="271" lengthAdjust="spacingAndGlyphs">QCMCS: complex coacervation</text>
<text x="680" y="1069">√</text><text x="700" y="1069" textLength="162" lengthAdjust="spacingAndGlyphs">Hydrogen bonding</text>
<text x="678" y="1109">√</text><text x="698" y="1109" textLength="218" lengthAdjust="spacingAndGlyphs">Electrostatic interactions</text>
<text x="680" y="1148">√</text><text x="700" y="1148" textLength="312" lengthAdjust="spacingAndGlyphs">Durable electroconductive hydrogel</text>
<text x="680" y="1192">√</text><text x="700" y="1192" textLength="303" lengthAdjust="spacingAndGlyphs">Photothermal-responsive hydrogel</text>
</g>
</svg>
</body></html>
